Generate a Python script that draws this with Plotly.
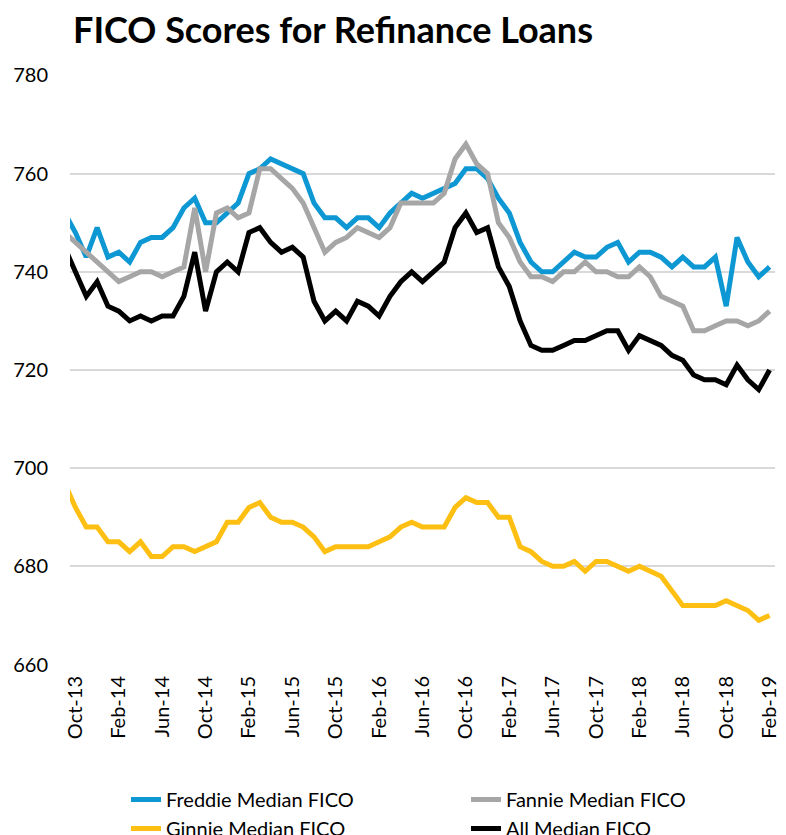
import pandas as pd
import plotly.graph_objects as go

# Monthly categories (Sep-13 is only partly visible at the left edge)
months = [d.strftime("%b-%y") for d in pd.date_range("2013-09-01", "2019-02-01", freq="MS")]

tick_labels = ["Oct-13", "Feb-14", "Jun-14", "Oct-14", "Feb-15", "Jun-15", "Oct-15", "Feb-16",
               "Jun-16", "Oct-16", "Feb-17", "Jun-17", "Oct-17", "Feb-18", "Jun-18", "Oct-18", "Feb-19"]

freddie = [752,
           748, 743, 749, 743, 744, 742, 746, 747, 747, 749, 753, 755, 750, 750, 752, 754,
           760, 761, 763, 762, 761, 760, 754, 751, 751, 749, 751, 751, 749, 752, 754, 756,
           755, 756, 757, 758, 761, 761, 759, 755, 752, 746, 742, 740, 740, 742, 744, 743,
           743, 745, 746, 742, 744, 744, 743, 741, 743, 741, 741, 743, 733, 747, 742, 739, 741]

fannie = [748,
          746, 744, 742, 740, 738, 739, 740, 740, 739, 740, 741, 753, 740, 752, 753, 751,
          752, 761, 761, 759, 757, 754, 749, 744, 746, 747, 749, 748, 747, 749, 754, 754,
          754, 754, 756, 763, 766, 762, 760, 750, 747, 742, 739, 739, 738, 740, 740, 742,
          740, 740, 739, 739, 741, 739, 735, 734, 733, 728, 728, 729, 730, 730, 729, 730, 732]

ginnie = [697,
          692, 688, 688, 685, 685, 683, 685, 682, 682, 684, 684, 683, 684, 685, 689, 689,
          692, 693, 690, 689, 689, 688, 686, 683, 684, 684, 684, 684, 685, 686, 688, 689,
          688, 688, 688, 692, 694, 693, 693, 690, 690, 684, 683, 681, 680, 680, 681, 679,
          681, 681, 680, 679, 680, 679, 678, 675, 672, 672, 672, 672, 673, 672, 671, 669, 670]

all_fico = [745,
            740, 735, 738, 733, 732, 730, 731, 730, 731, 731, 735, 744, 732, 740, 742, 740,
            748, 749, 746, 744, 745, 743, 734, 730, 732, 730, 734, 733, 731, 735, 738, 740,
            738, 740, 742, 749, 752, 748, 749, 741, 737, 730, 725, 724, 724, 725, 726, 726,
            727, 728, 728, 724, 727, 726, 725, 723, 722, 719, 718, 718, 717, 721, 718, 716, 720]

series = [
    ("Freddie Median FICO", freddie, "#0e98d3", "legend"),
    ("Fannie Median FICO", fannie, "#a6a6a6", "legend2"),
    ("Ginnie Median FICO", ginnie, "#fdbf11", "legend"),
    ("All Median FICO", all_fico, "#000000", "legend2"),
]

FONT = "Lato, 'Open Sans', sans-serif"
W, H = 786, 835

fig = go.Figure()
for name, vals, color, leg in series:
    fig.add_trace(go.Scatter(
        x=months, y=vals, name=name, mode="lines",
        line=dict(color=color, width=5),
        legend=leg,
    ))

legend_common = dict(
    xref="container", yref="container",
    xanchor="left", yanchor="top",
    orientation="v",
    font=dict(family=FONT, size=20, color="#000000"),
    bgcolor="rgba(0,0,0,0)",
    tracegroupgap=0,
)

# the page adds an 8px body margin, so the layout is shifted up/left by 8px
fig.update_layout(
    width=W, height=H,
    margin=dict(l=62, r=19, t=67, b=178, autoexpand=False),
    plot_bgcolor="white", paper_bgcolor="white",
    font=dict(family=FONT, color="#000000", size=20),
    title=dict(
        text="<b>FICO Scores for Refinance Loans</b>",
        xref="container", yref="container",
        x=65 / W, xanchor="left",
        y=1 - 22 / H, yanchor="middle",
        font=dict(family=FONT, size=36, color="#000000"),
    ),
    showlegend=True,
    legend=dict(x=118 / W, y=1 - 772 / H, **legend_common),
    legend2=dict(x=458 / W, y=1 - 772 / H, **legend_common),
)

fig.update_xaxes(
    type="category",
    categoryorder="array", categoryarray=months,
    range=[0.5, len(months) - 0.5],
    tickmode="array", tickvals=tick_labels, ticktext=tick_labels,
    tickangle=-90,
    showgrid=False, showline=False, zeroline=False,
    ticks="",
    ticklabelstandoff=6,
    automargin=False,
    tickfont=dict(family=FONT, size=20, color="#000000"),
)

fig.update_yaxes(
    range=[659.9, 780.1],
    tickmode="linear", tick0=660, dtick=20,
    showgrid=True, gridcolor="#d9d9d9", gridwidth=2,
    showline=False, zeroline=False,
    ticks="",
    ticklabelstandoff=21,
    automargin=False,
    tickfont=dict(family=FONT, size=20, color="#000000"),
)

fig.write_html("out.html")
